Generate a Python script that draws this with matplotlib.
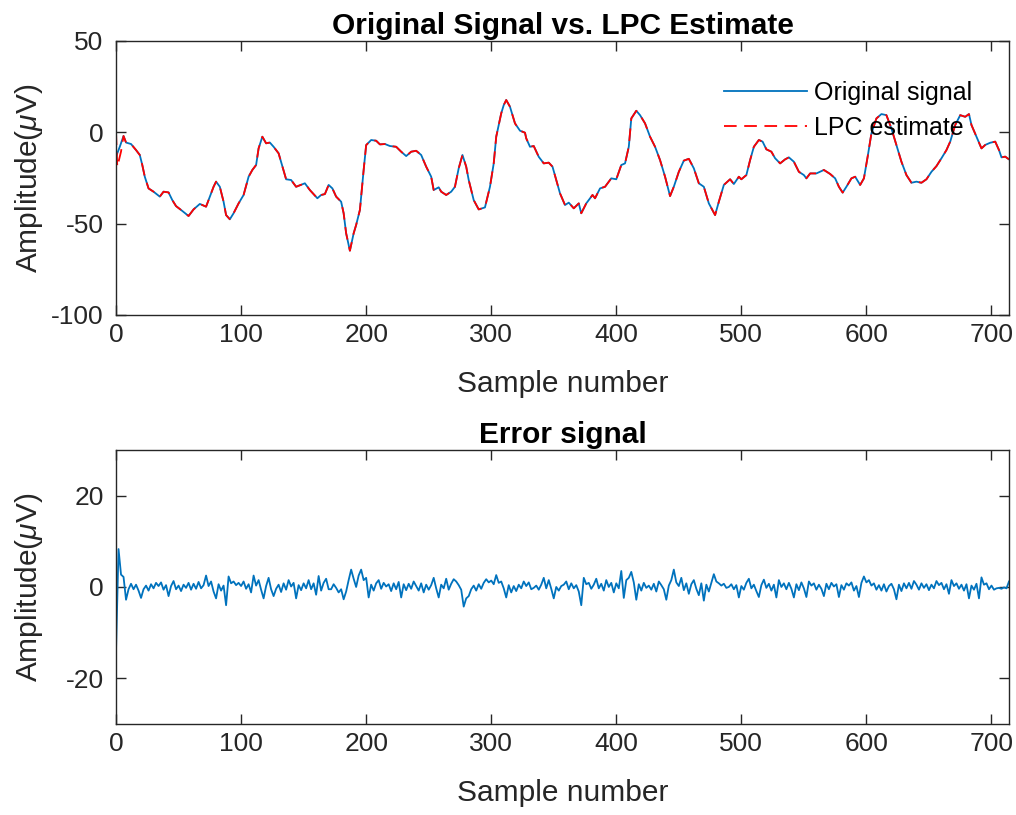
import numpy as np
import matplotlib
matplotlib.use("Agg")
import matplotlib.pyplot as plt

plt.rcParams['font.family'] = ['Liberation Sans', 'DejaVu Sans']
plt.rcParams['mathtext.fontset'] = 'custom'
plt.rcParams['mathtext.rm'] = 'Liberation Sans'
plt.rcParams['mathtext.it'] = 'Liberation Sans:italic'
plt.rcParams['axes.unicode_minus'] = False

# Recorded signal (sample number, amplitude in microvolts)
orig_n = [0, 3, 6, 8, 12, 16, 19, 21, 23, 26, 30, 35, 38, 42, 45, 48, 52, 58, 62, 67,
          72, 75, 78, 80, 83, 86, 88, 91, 94, 98, 102, 106, 109, 112, 114, 117, 120, 123, 126, 130,
          133, 136, 140, 144, 151, 155, 161, 164, 167, 170, 173, 176, 180, 182, 184, 187, 190, 192, 195, 198,
          200, 204, 208, 211, 215, 219, 224, 228, 232, 236, 240, 244, 248, 252, 254, 258, 260, 264, 268, 271,
          274, 277, 280, 282, 286, 290, 295, 299, 302, 304, 308, 310, 312, 315, 319, 323, 327, 328, 331, 334,
          338, 342, 346, 349, 352, 355, 359, 362, 366, 370, 372, 376, 381, 383, 387, 391, 396, 400, 404, 407,
          410, 412, 416, 419, 423, 427, 431, 435, 439, 443, 446, 450, 454, 458, 462, 466, 470, 474, 479, 482,
          486, 491, 494, 498, 500, 504, 507, 510, 514, 517, 520, 524, 527, 531, 535, 538, 542, 546, 550, 552,
          555, 560, 566, 571, 575, 578, 581, 584, 588, 591, 595, 598, 601, 604, 608, 612, 616, 620, 624, 628,
          632, 636, 640, 644, 648, 652, 656, 660, 664, 667, 671, 675, 679, 682, 684, 688, 692, 695, 699, 703,
          706, 708, 711, 714]
orig_v = [-13.3, -7.9, -2.0, -5.6, -6.4, -9.7, -12.4, -17.9, -24.3, -30.7, -32.5, -35.2, -32.5, -32.9, -37.1, -40.4, -42.5, -45.8, -42.2, -39.2,
          -40.7, -35.2, -29.8, -27.0, -29.8, -38.0, -45.3, -47.6, -44.3, -38.9, -34.3, -24.3, -20.6, -17.9, -8.8, -2.4, -6.0, -5.6, -7.9, -11.5,
          -18.5, -25.7, -26.1, -29.8, -27.9, -31.6, -36.1, -34.3, -33.8, -28.8, -30.7, -35.2, -38.0, -44.3, -55.3, -64.8, -55.3, -50.7, -42.5, -20.6,
          -7.0, -4.2, -4.6, -6.6, -6.4, -7.5, -7.9, -10.6, -13.0, -10.6, -10.1, -12.4, -18.8, -24.3, -31.6, -30.1, -32.5, -34.3, -32.5, -29.8,
          -19.7, -12.4, -18.8, -26.1, -37.1, -42.2, -41.1, -29.8, -17.0, -2.4, 10.4, 14.9, 17.7, 14.0, 4.9, 0.9, -0.2, -3.3, -7.9, -7.5,
          -13.4, -17.0, -16.6, -18.8, -26.1, -33.4, -39.8, -38.5, -41.6, -38.9, -44.3, -38.9, -34.3, -36.1, -30.7, -29.8, -25.2, -25.7, -17.9, -17.0,
          -7.9, 7.6, 11.8, 9.4, 4.9, -2.4, -7.9, -15.2, -24.3, -34.9, -29.8, -21.6, -15.5, -14.5, -19.7, -27.9, -29.8, -38.9, -45.3, -38.0,
          -28.8, -25.7, -28.3, -24.3, -25.7, -23.4, -15.2, -7.9, -4.2, -5.1, -9.3, -10.6, -14.2, -17.0, -14.8, -13.7, -16.1, -21.6, -23.4, -25.2,
          -22.5, -22.5, -20.6, -22.8, -25.2, -29.8, -33.0, -29.8, -25.2, -24.3, -28.8, -25.2, -13.3, -0.6, 7.6, 10.0, 9.4, 2.1, -6.9, -16.1,
          -23.4, -27.6, -27.0, -27.6, -25.7, -21.6, -18.5, -14.2, -9.7, -5.1, 4.0, 9.4, 8.5, 10.0, 4.0, -2.4, -8.8, -6.9, -5.7, -5.1,
          -9.7, -13.7, -13.3, -14.8]

# LPC estimate: starts from zero while the predictor warms up, then tracks the signal
lpc_start_n = [0, 1, 4]
lpc_start_v = [0.0, -19.0, -10.5]

# Prediction error, every second sample from 0 to 714
err_step = 2
err_v = [-14, 8.3, 2.7, 2.2, -2.8, -0.5, 0.7, -0.5, 0.5, -0.8,
         -2.4, -0.5, 0.3, -0.8, 0.6, -0.3, 0.9, 0.2, 1.0, -0.6,
         0.4, -2.0, 0.2, 1.3, -0.5, 0.3, -0.9, 0.5, -0.2, 0.9,
         -0.6, 0.7, -0.4, 1.1, -0.3, 0.4, 2.5, 0.2, 1.2, -1.0,
         -2.5, 0.6, -0.8, 0.3, -4.0, 2.3, 0.8, 1.2, 0.4, 0.9,
         0.2, 1.2, -0.4, 0.6, -1.2, 2.5, 0.3, 1.5, -0.6, -2.5,
         0.2, 2.0, -0.5, -2.0, -0.4, 0.5, -1.1, 0.8, -0.6, 1.5,
         0.1, 0.9, -2.5, 0.4, -0.7, 0.8, -0.3, 1.5, -0.5, 0.8,
         -1.7, 2.4, -0.8, 0.9, 1.8, -0.5, -0.5, 0.6, -0.2, -1.2,
         -0.5, -2.7, -1.0, 1.5, 3.8, 1.8, 0.0, 2.5, 3.8, 1.5,
         2.0, -2.3, 0.5, -0.8, 0.8, 1.5, -0.4, 0.9, 0.1, 0.6,
         -0.9, 0.8, -0.5, 1.1, -2.3, 0.6, -0.7, 0.7, -0.4, 1.2,
         0.2, -0.8, 0.8, -1.2, 0.5, -0.6, 0.4, 2.0, -0.3, -2.3,
         0.5, -0.3, 1.8, -0.6, 0.7, 1.7, 1.2, 0.4, -0.6, -4.3,
         -2.5, -2.0, -0.5, 0.3, -0.8, 0.6, -0.4, 0.9, 1.7, 1.0,
         1.4, 0.6, 2.6, 0.9, 1.2, -0.3, -2.3, 0.4, -1.2, 0.2,
         -0.9, 0.5, -0.3, 1.2, 0.2, 1.0, -0.5, -0.2, 0.3, -0.6,
         0.5, 2.0, -0.3, 1.5, -0.4, -2.5, 0.0, -0.8, 0.2, 0.5,
         1.2, -0.5, 0.8, -0.3, 0.4, -1.0, -4.0, 2.0, 0.6, 0.9,
         -0.4, 0.5, 1.8, -0.3, 0.7, -0.8, 1.5, 0.0, 0.9, -1.2,
         0.8, -0.3, 3.5, -2.4, 1.5, 2.0, 3.3, 1.0, -2.8, 0.6,
         -0.8, 0.9, -0.2, 0.3, -0.6, 0.7, -1.0, 1.2, 0.4, -0.5,
         -2.8, 0.3, 1.5, 3.8, 1.0, 0.2, 2.0, -0.7, 0.8, -1.5,
         0.6, 1.5, -0.4, -1.8, 0.8, -3.0, 0.5, -1.0, 0.9, 2.8,
         1.2, 0.8, 0.3, 0.7, -0.2, 0.0, 0.6, -0.5, 0.4, -2.3,
         0.2, -0.6, 0.9, 1.8, -0.3, 0.5, -0.9, -2.2, 0.4, 1.6,
         -0.2, 0.7, -0.8, 0.5, -2.3, 1.5, 0.0, 0.8, -0.5, 0.9,
         -0.4, -2.3, 0.6, -0.7, 1.0, -0.3, -2.2, 1.2, 0.3, 0.8,
         -0.6, 0.5, -0.4, -2.0, 0.7, -0.5, 0.9, 0.1, 0.6, -2.2,
         0.4, -0.6, 0.8, 0.3, 1.0, -0.8, 0.2, -2.2, 0.9, 2.3,
         1.0, 1.5, 0.3, 0.8, -0.6, 0.4, -0.8, 0.6, -1.0, 0.2,
         0.7, -0.5, -2.7, 0.5, -0.9, 0.8, -0.3, 0.9, -0.4, 1.3,
         0.5, -0.6, 0.8, -0.2, 0.6, -0.7, 0.5, -0.3, 1.3, 0.4,
         0.9, -0.5, 0.6, -1.5, 1.5, 0.2, 0.8, -0.4, 0.5, -0.8,
         0.6, -2.5, 0.3, -0.6, 0.7, -2.5, 2.1, 0.5, 0.8, -0.5,
         0.3, -0.6, -0.3, -0.2, -0.4, -0.1, -0.3, 1.2]

x_ticks = [0, 100, 200, 300, 400, 500, 600, 700]
top_yticks = [-100, -50, 0, 50]
bot_yticks = [-20, 0, 20]

n_samples = 715
blue = '#0072BD'
ink = '#262626'

lpc_n = lpc_start_n + orig_n[2:]
lpc_v = lpc_start_v + orig_v[2:]
err_n = np.arange(len(err_v)) * err_step

fig = plt.figure(figsize=(10.16, 8.15), dpi=100)
ax1 = fig.add_axes([0.1142, 0.6135, 0.8789, 0.3362])
ax2 = fig.add_axes([0.1142, 0.1117, 0.8789, 0.3362])


def style(ax, yticks, ylim):
    ax.set_xlim(0, n_samples - 1)
    ax.set_ylim(*ylim)
    ax.set_xticks(x_ticks)
    ax.set_yticks(yticks)
    for s in ax.spines.values():
        s.set_color(ink)
        s.set_linewidth(1.0)
    ax.tick_params(direction='in', length=7, width=1.0, color=ink,
                   labelcolor=ink, labelsize=19, top=True, right=True)
    ax.tick_params(axis='x', pad=6)
    ax.tick_params(axis='y', pad=9)
    ax.set_xlabel('Sample number', fontsize=21.5, color=ink)
    ax.set_ylabel(r'Amplitude($\mu$V)', fontsize=21.5, color=ink)
    ax.xaxis.set_label_coords(0.5, -0.2)
    ax.yaxis.set_label_coords(-0.08, 0.5)


ax1.plot(orig_n, orig_v, color=blue, lw=1.3, label='Original signal')
ax1.plot(lpc_n, lpc_v, color='red', lw=1.3, dashes=(7, 4.2), label='LPC estimate')
style(ax1, top_yticks, (-100, 50))
ax1.set_title('Original Signal vs. LPC Estimate', fontsize=21.5,
              fontweight='bold', color='black', pad=5)
ax1.legend(loc='center', bbox_to_anchor=(0.82, 0.747), frameon=False,
           fontsize=18, handlelength=3.3, handletextpad=0.3, labelspacing=0.42)

ax2.plot(err_n, err_v, color=blue, lw=1.3)
style(ax2, bot_yticks, (-30, 30))
ax2.set_title('Error signal', fontsize=21.5, fontweight='bold', color='black', pad=5)

fig.savefig('out.png', dpi=100, facecolor='white')
